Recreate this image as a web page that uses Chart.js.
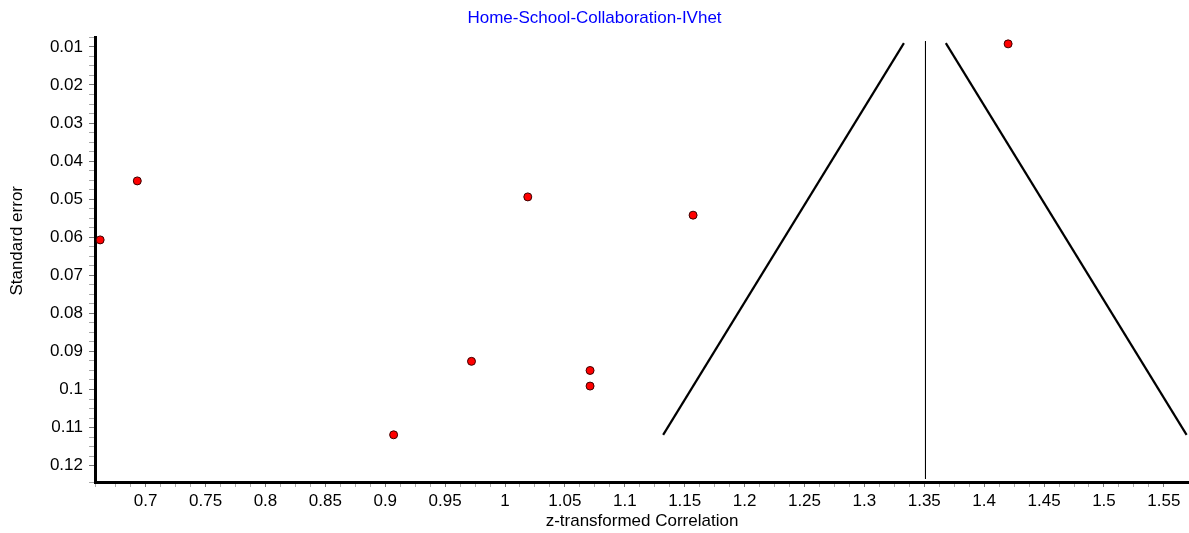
<!DOCTYPE html>
<html>
<head>
<meta charset="utf-8">
<title>Home-School-Collaboration-IVhet</title>
<script src="https://cdn.jsdelivr.net/npm/chart.js@4/dist/chart.umd.min.js"></script>
<style>
  html, body { margin: 0; padding: 0; background: #fff; overflow: hidden; }
  #chartWrap { width: 1189px; height: 533px; position: relative; }
</style>
</head>
<body>
<div id="chartWrap"><canvas id="funnelChart"></canvas></div>
<script>
// ===============================
// Data
// ===============================
const chartTitle = "Home-School-Collaboration-IVhet";
const xAxisTitle = "z-transformed Correlation";
const yAxisTitle = "Standard error";

// studies: z-transformed correlation vs standard error
const studyZ  = [1.420, 0.693, 0.662, 1.019, 1.157, 0.972, 1.071, 1.071, 0.907];
const studySE = [0.0092, 0.0452, 0.0607, 0.0494, 0.0542, 0.0926, 0.0950, 0.0991, 0.1119];

// pooled estimate (vertical line)
const pooledZ  = [1.351, 1.351];
const pooledSE = [0.0085, 0.1235];

// funnel limits
const leftLimitZ   = [1.333, 1.132];
const rightLimitZ  = [1.368, 1.569];
const limitSE      = [0.0090, 0.1119];

// axis ranges and tick steps
const xRange = [0.6577, 1.571];
const yRange = [0.0075, 0.1243];
const xTickStep = 0.0125;
const yTickStep = 0.0025;

const toPoints = (xs, ys) => xs.map((x, i) => ({ x, y: ys[i] }));
const isMultiple = (v, step) => Math.abs(v / step - Math.round(v / step)) < 1e-6;
const FONT = "'Liberation Sans', Arial, sans-serif";

document.addEventListener("DOMContentLoaded", () => {
  const canvas = document.getElementById("funnelChart");

  new Chart(canvas.getContext("2d"), {
    type: "scatter",
    data: {
      datasets: [
        {
          label: "Studies",
          data: toPoints(studyZ, studySE),
          pointRadius: 4,
          pointBackgroundColor: "#ff0000",
          pointBorderColor: "#3a0000",
          pointBorderWidth: 1,
          showLine: false
        },
        {
          label: "Lower limit",
          data: toPoints(leftLimitZ, limitSE),
          showLine: true,
          borderColor: "#000",
          borderWidth: 2.2,
          pointRadius: 0
        },
        {
          label: "Upper limit",
          data: toPoints(rightLimitZ, limitSE),
          showLine: true,
          borderColor: "#000",
          borderWidth: 2.2,
          pointRadius: 0,
          clip: false
        },
        {
          label: "Pooled",
          data: toPoints(pooledZ, pooledSE),
          showLine: true,
          borderColor: "#000",
          borderWidth: 1,
          pointRadius: 0
        }
      ]
    },
    options: {
      responsive: true,
      maintainAspectRatio: false,
      animation: false,
      // no auto padding: the x axis runs right to the canvas edge
      layout: { padding: 0, autoPadding: false },
      plugins: {
        legend: { display: false },
        tooltip: { enabled: false },
        title: {
          display: true,
          text: chartTitle,
          color: "#0000ff",
          font: { size: 17, family: FONT, weight: "normal" },
          padding: { top: 8, bottom: 9 }
        }
      },
      scales: {
        x: {
          type: "linear",
          min: xRange[0],
          max: xRange[1],
          afterFit: scale => {
            scale.height = 51;
            scale.paddingLeft = 0;
            scale.paddingRight = 0;
          },
          border: { display: true, color: "#000", width: 3 },
          grid: {
            drawOnChartArea: false,
            tickLength: 5,
            color: ctx => (isMultiple(ctx.tick.value, 0.05) ? "#777" : "#aaa")
          },
          ticks: {
            stepSize: xTickStep,
            autoSkip: false,
            maxRotation: 0,
            padding: 4,
            color: "#000",
            font: { size: 17, family: FONT },
            callback: v => (isMultiple(v, 0.05) ? String(Math.round(v * 100) / 100) : "")
          },
          title: {
            display: true,
            text: xAxisTitle,
            color: "#000",
            font: { size: 17, family: FONT },
            padding: { top: 1, bottom: 1 }
          }
        },
        y: {
          type: "linear",
          reverse: true,
          min: yRange[0],
          max: yRange[1],
          afterFit: scale => { scale.width = 95; },
          border: { display: true, color: "#000", width: 3 },
          grid: {
            drawOnChartArea: false,
            tickLength: 6,
            color: ctx => (isMultiple(ctx.tick.value, 0.01) ? "#777" : "#aaa")
          },
          ticks: {
            stepSize: yTickStep,
            autoSkip: false,
            padding: 6,
            color: "#000",
            font: { size: 17, family: FONT },
            callback: v => (isMultiple(v, 0.01) ? String(Math.round(v * 100) / 100) : "")
          },
          title: {
            display: true,
            // leading spaces nudge the rotated label up, as in the original
            text: "        " + yAxisTitle,
            color: "#000",
            font: { size: 17, family: FONT },
            padding: { top: 7, bottom: 7 }
          }
        }
      }
    }
  });
});
</script>
</body>
</html>
